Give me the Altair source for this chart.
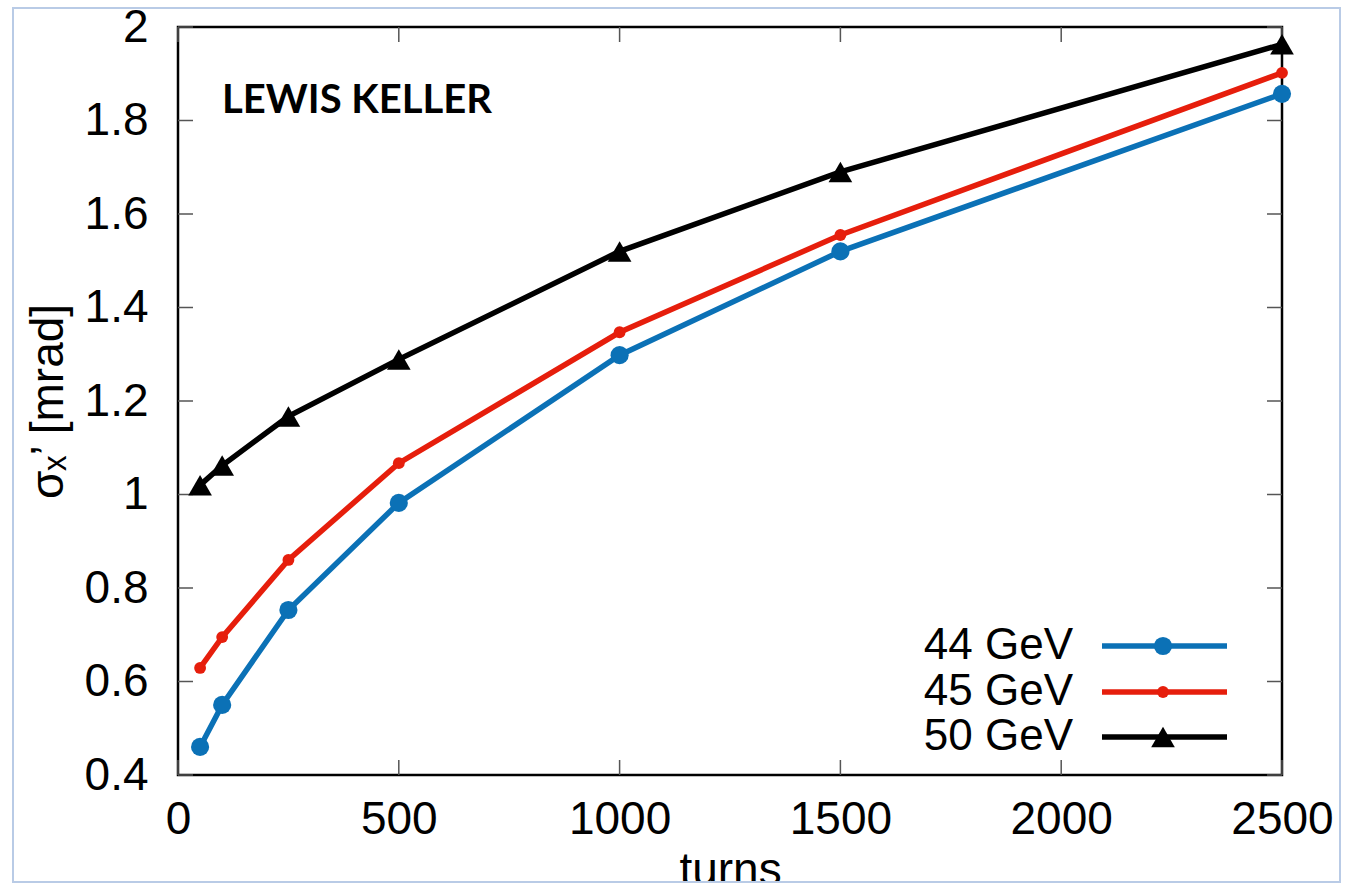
import altair as alt
import pandas as pd

# ---- data ----
turns = [50, 100, 250, 500, 1000, 1500, 2500]
sigma_44 = [0.46, 0.55, 0.753, 0.982, 1.298, 1.52, 1.857]
sigma_45 = [0.629, 0.695, 0.86, 1.067, 1.347, 1.555, 1.902]
sigma_50 = [1.02, 1.062, 1.167, 1.289, 1.52, 1.69, 1.963]
series_names = ["44 GeV", "45 GeV", "50 GeV"]
series_values = [sigma_44, sigma_45, sigma_50]
x_ticks = [0, 500, 1000, 1500, 2000, 2500]
y_ticks = [0.4, 0.6, 0.8, 1.0, 1.2, 1.4, 1.6, 1.8, 2.0]

# ---- styles ----
colors = ["#0b71b6", "#e61e0c", "#000000"]
shapes = ["circle", "circle", "triangle-up"]
sizes = [330, 140, 560]
FONT = "Liberation Sans"
W, H = 1104, 748
FS = 46
TICK_COLOR = "#555555"
TICK_LEN = 15

xscale = alt.Scale(domain=[0, 2500], nice=False, zero=False)
yscale = alt.Scale(domain=[0.4, 2.0], nice=False, zero=False)

x_axis = alt.Axis(values=x_ticks, format="d", ticks=False, domain=False, grid=False,
                  labelFont=FONT, labelFontSize=FS, labelColor="black", labelPadding=22,
                  title="turns", titleFont=FONT, titleFontSize=46, titleFontWeight="normal",
                  titleColor="black", titlePadding=6, labelFlush=False, labelOverlap=False)
y_axis = alt.Axis(values=y_ticks, format="~g", ticks=False, domain=False, grid=False,
                  labelFont=FONT, labelFontSize=FS, labelColor="black", labelPadding=30,
                  title="σₓ’ [mrad]", titleFont=FONT, titleFontSize=46, titleFontWeight="normal",
                  titleColor="black", titlePadding=12, labelFlush=False, labelOverlap=False)

X_T = alt.X("t:Q", scale=xscale, axis=x_axis, title="turns")
Y_V = alt.Y("v:Q", scale=yscale, axis=y_axis, title="σₓ’ [mrad]")

layers = []

# inward tick marks on all four sides, placed by the scales
tx = pd.DataFrame({"t": x_ticks})
ty = pd.DataFrame({"v": y_ticks})
tick_mark = dict(color=TICK_COLOR, strokeWidth=1.5)
layers.append(alt.Chart(tx).mark_rule(**tick_mark).encode(
    x=X_T, y=alt.value(H), y2=alt.value(H - TICK_LEN)))
layers.append(alt.Chart(tx).mark_rule(**tick_mark).encode(
    x=X_T, y=alt.value(0), y2=alt.value(TICK_LEN)))
layers.append(alt.Chart(ty).mark_rule(**tick_mark).encode(
    y=Y_V, x=alt.value(0), x2=alt.value(TICK_LEN)))
layers.append(alt.Chart(ty).mark_rule(**tick_mark).encode(
    y=Y_V, x=alt.value(W - TICK_LEN), x2=alt.value(W)))

for i, name in enumerate(series_names):
    df = pd.DataFrame({"t": turns, "v": series_values[i], "series": name})
    layers.append(
        alt.Chart(df).mark_line(
            color=colors[i], strokeWidth=5.5,
            point=alt.OverlayMarkDef(shape=shapes[i], size=sizes[i], filled=True,
                                     color=colors[i], opacity=1),
        ).encode(x=X_T, y=Y_V)
    )

one = alt.Data(values=[{"k": 1}])

# annotation
layers.append(
    alt.Chart(one).mark_text(text="LEWIS KELLER", font="Lato", fontWeight="bold",
                             fontSize=40, align="left", baseline="alphabetic", color="black")
    .encode(x=alt.value(44), y=alt.value(86))
)

# manual legend (labels left of the line+symbol sample)
legend_y = [619, 665, 710]
for i, name in enumerate(series_names):
    ly = legend_y[i]
    layers.append(alt.Chart(one).mark_rule(color=colors[i], strokeWidth=5.5)
                  .encode(x=alt.value(924), x2=alt.value(1049), y=alt.value(ly)))
    layers.append(alt.Chart(one).mark_point(shape=shapes[i], size=sizes[i], filled=True,
                                            color=colors[i], opacity=1)
                  .encode(x=alt.value(985), y=alt.value(ly)))
    layers.append(alt.Chart(one).mark_text(text=name, font=FONT, fontSize=44, align="right",
                                           baseline="middle", color="black")
                  .encode(x=alt.value(895), y=alt.value(ly)))

# outer light frame of the picture
layers.append(alt.Chart(one).mark_rect(fill="transparent", stroke="#b9cbe6", strokeWidth=2)
              .encode(x=alt.value(-165), x2=alt.value(1162), y=alt.value(-19), y2=alt.value(855)))

chart = alt.layer(*layers).properties(
    width=W, height=H,
    autosize=alt.AutoSizeParams(type="none"),
    padding={"left": 178, "top": 27, "right": 63, "bottom": 108},
    background="white",
).configure_view(stroke="black", strokeWidth=2.5)

chart.save("out.html", embed_options={"renderer": "svg", "actions": False})
